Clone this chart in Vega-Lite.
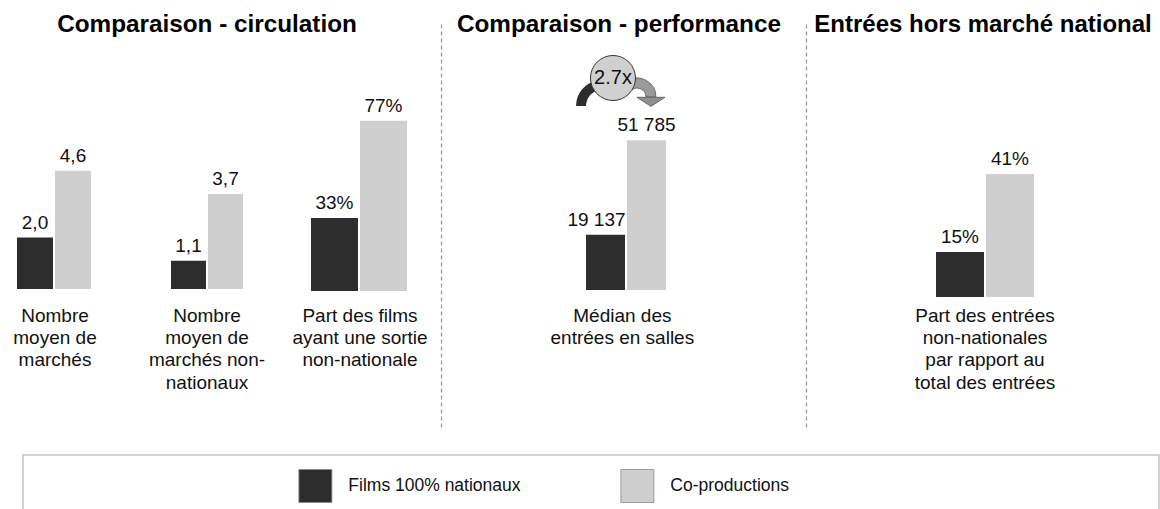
{
  "$schema": "https://vega.github.io/schema/vega-lite/v6.json",
  "padding": {"top": 13, "left": 0, "right": 0, "bottom": 0},
  "spacing": 27,
  "config": {
    "font": "Liberation Sans",
    "view": {"stroke": null},
    "text": {"color": "#111111"}
  },
  "datasets": {
    "barres": [
      {"groupe": "g1", "serie": "Films 100% nationaux", "valeur": 2.0, "etiquette": "2,0", "categorie": "Nombre\nmoyen de\nmarchés"},
      {"groupe": "g1", "serie": "Co-productions", "valeur": 4.6, "etiquette": "4,6", "categorie": "Nombre\nmoyen de\nmarchés"},
      {"groupe": "g2", "serie": "Films 100% nationaux", "valeur": 1.1, "etiquette": "1,1", "categorie": "Nombre\nmoyen de\nmarchés non-\nnationaux"},
      {"groupe": "g2", "serie": "Co-productions", "valeur": 3.7, "etiquette": "3,7", "categorie": "Nombre\nmoyen de\nmarchés non-\nnationaux"},
      {"groupe": "g3", "serie": "Films 100% nationaux", "valeur": 33, "etiquette": "33%", "categorie": "Part des films\nayant une sortie\nnon-nationale"},
      {"groupe": "g3", "serie": "Co-productions", "valeur": 77, "etiquette": "77%", "categorie": "Part des films\nayant une sortie\nnon-nationale"},
      {"groupe": "g4", "serie": "Films 100% nationaux", "valeur": 19137, "etiquette": "19 137", "categorie": "Médian des\nentrées en salles"},
      {"groupe": "g4", "serie": "Co-productions", "valeur": 51785, "etiquette": "51 785", "categorie": "Médian des\nentrées en salles"},
      {"groupe": "g5", "serie": "Films 100% nationaux", "valeur": 15, "etiquette": "15%", "categorie": "Part des entrées\nnon-nationales\npar rapport au\ntotal des entrées"},
      {"groupe": "g5", "serie": "Co-productions", "valeur": 41, "etiquette": "41%", "categorie": "Part des entrées\nnon-nationales\npar rapport au\ntotal des entrées"}
    ]
  },
  "vconcat": [
    {
      "resolve": {"scale": {"x": "independent", "xOffset": "independent", "y": "independent"}},
      "hconcat": [
        {
          "width": 108, "height": 404,
          "data": {"name": "barres"},
          "layer": [
            {
              "transform": [{"filter": "datum.groupe === 'g1'"}],
              "mark": {"type": "bar"},
              "encoding": {
                "x": {"field": "serie", "type": "nominal", "scale": {"domain": ["Films 100% nationaux", "Co-productions"], "paddingInner": 0.0526, "paddingOuter": 0.447, "align": 0.5}, "axis": null},
                "y": {"field": "valeur", "type": "quantitative", "scale": {"domain": [-5.37, 10.35], "nice": false}, "axis": null},
                "y2": {"datum": 0},
                "color": {"field": "serie", "type": "nominal", "scale": {"domain": ["Films 100% nationaux", "Co-productions"], "range": ["#2d2d2d", "#cfcfcf"]}, "legend": null}
              }
            },
            {
              "transform": [{"filter": "datum.groupe === 'g1'"}],
              "mark": {"type": "text", "baseline": "alphabetic", "dy": -9, "fontSize": 19},
              "encoding": {
                "x": {"field": "serie", "type": "nominal", "axis": null},
                "y": {"field": "valeur", "type": "quantitative", "axis": null},
                "text": {"field": "etiquette"}
              }
            },
            {
              "transform": [{"filter": "datum.groupe === 'g1' && datum.serie === 'Co-productions'"}],
              "mark": {"type": "text", "baseline": "top", "dy": 17.8, "fontSize": 19, "lineHeight": 22.3, "lineBreak": "\n"},
              "encoding": {
                "x": {"field": "serie", "type": "nominal", "bandPosition": 0, "axis": null},
                "y": {"datum": 0, "axis": null},
                "text": {"field": "categorie"}
              }
            }
          ]
        },
        {
          "width": 198, "height": 404,
          "data": {"name": "barres"},
          "layer": [
            {
              "transform": [{"filter": "datum.groupe === 'g2'"}],
              "mark": {"type": "bar"},
              "encoding": {
                "x": {"field": "groupe", "type": "nominal", "scale": {"paddingInner": 0, "paddingOuter": 0.5, "align": 0.5}, "axis": null},
                "xOffset": {"field": "serie", "type": "nominal", "scale": {"domain": ["Films 100% nationaux", "Co-productions"], "paddingInner": 0.054, "paddingOuter": 0.365}},
                "y": {"field": "valeur", "type": "quantitative", "scale": {"domain": [-5.37, 10.35], "nice": false}, "axis": null},
                "y2": {"datum": 0},
                "color": {"field": "serie", "type": "nominal", "scale": {"domain": ["Films 100% nationaux", "Co-productions"], "range": ["#2d2d2d", "#cfcfcf"]}, "legend": null}
              }
            },
            {
              "transform": [{"filter": "datum.groupe === 'g2'"}],
              "mark": {"type": "text", "baseline": "alphabetic", "dy": -9, "fontSize": 19},
              "encoding": {
                "x": {"field": "groupe", "type": "nominal", "axis": null},
                "xOffset": {"field": "serie", "type": "nominal"},
                "y": {"field": "valeur", "type": "quantitative", "axis": null},
                "text": {"field": "etiquette"}
              }
            },
            {
              "transform": [{"filter": "datum.groupe === 'g2' && datum.serie === 'Co-productions'"}],
              "mark": {"type": "text", "baseline": "top", "dy": 17.8, "fontSize": 19, "lineHeight": 22.3, "lineBreak": "\n"},
              "encoding": {
                "x": {"field": "groupe", "type": "nominal", "axis": null},
                "y": {"datum": 0, "axis": null},
                "text": {"field": "categorie"}
              }
            },
            {
              "data": {"values": [{"titre": "Comparaison - circulation"}]},
              "mark": {"type": "text", "baseline": "alphabetic", "dy": 9.3, "fontSize": 24.3, "fontWeight": "bold", "color": "#000000"},
              "encoding": {
                "y": {"datum": 10.35, "axis": null},
                "text": {"field": "titre"}
              }
            }
          ]
        },
        {
          "width": 135, "height": 404,
          "data": {"name": "barres"},
          "layer": [
            {
              "transform": [{"filter": "datum.groupe === 'g3'"}],
              "mark": {"type": "bar"},
              "encoding": {
                "x": {"field": "serie", "type": "nominal", "scale": {"domain": ["Films 100% nationaux", "Co-productions"], "paddingInner": 0.041, "paddingOuter": 0.398, "align": 0.128}, "axis": null},
                "y": {"field": "valeur", "type": "quantitative", "scale": {"domain": [-61.54, 121.27], "nice": false}, "axis": null},
                "y2": {"datum": 0},
                "color": {"field": "serie", "type": "nominal", "scale": {"domain": ["Films 100% nationaux", "Co-productions"], "range": ["#2d2d2d", "#cfcfcf"]}, "legend": null}
              }
            },
            {
              "transform": [{"filter": "datum.groupe === 'g3'"}],
              "mark": {"type": "text", "baseline": "alphabetic", "dy": -9, "fontSize": 19},
              "encoding": {
                "x": {"field": "serie", "type": "nominal", "axis": null},
                "y": {"field": "valeur", "type": "quantitative", "axis": null},
                "text": {"field": "etiquette"}
              }
            },
            {
              "transform": [{"filter": "datum.groupe === 'g3' && datum.serie === 'Co-productions'"}],
              "mark": {"type": "text", "baseline": "top", "dy": 15.8, "fontSize": 19, "lineHeight": 22.3, "lineBreak": "\n"},
              "encoding": {
                "x": {"field": "serie", "type": "nominal", "bandPosition": 0, "axis": null},
                "y": {"datum": 0, "axis": null},
                "text": {"field": "categorie"}
              }
            }
          ]
        },
        {
          "width": 365, "height": 404,
          "data": {"name": "barres"},
          "layer": [
            {
              "transform": [{"filter": "datum.groupe === 'g4'"}],
              "mark": {"type": "bar"},
              "encoding": {
                "x": {"field": "groupe", "type": "nominal", "scale": {"paddingInner": 0, "paddingOuter": 1, "align": 0.5103}, "axis": null},
                "xOffset": {"field": "serie", "type": "nominal", "scale": {"domain": ["Films 100% nationaux", "Co-productions"], "paddingInner": 0.0488, "paddingOuter": 0.508}},
                "y": {"field": "valeur", "type": "quantitative", "scale": {"domain": [-47356, 92292], "nice": false}, "axis": {"orient": "left", "domain": true, "domainDash": [4, 3], "domainColor": "#9a9a9a", "domainWidth": 1.3, "ticks": false, "labels": false, "title": null, "grid": false}},
                "y2": {"datum": 0},
                "color": {"field": "serie", "type": "nominal", "scale": {"domain": ["Films 100% nationaux", "Co-productions"], "range": ["#2d2d2d", "#cfcfcf"]}, "legend": null}
              }
            },
            {
              "transform": [{"filter": "datum.groupe === 'g4' && datum.serie === 'Films 100% nationaux'"}],
              "mark": {"type": "text", "baseline": "alphabetic", "dy": -9, "dx": -9, "fontSize": 19},
              "encoding": {
                "x": {"field": "groupe", "type": "nominal", "axis": null},
                "xOffset": {"field": "serie", "type": "nominal"},
                "y": {"field": "valeur", "type": "quantitative"},
                "text": {"field": "etiquette"}
              }
            },
            {
              "transform": [{"filter": "datum.groupe === 'g4' && datum.serie === 'Co-productions'"}],
              "mark": {"type": "text", "baseline": "alphabetic", "dy": -9, "fontSize": 19},
              "encoding": {
                "x": {"field": "groupe", "type": "nominal", "axis": null},
                "xOffset": {"field": "serie", "type": "nominal"},
                "y": {"field": "valeur", "type": "quantitative"},
                "text": {"field": "etiquette"}
              }
            },
            {
              "transform": [{"filter": "datum.groupe === 'g4' && datum.serie === 'Co-productions'"}],
              "mark": {"type": "text", "baseline": "top", "dy": 16.8, "fontSize": 19, "lineHeight": 22.3, "lineBreak": "\n"},
              "encoding": {
                "x": {"field": "groupe", "type": "nominal", "bandPosition": 0.47, "axis": null},
                "y": {"datum": 0},
                "text": {"field": "categorie"}
              }
            },
            {
              "data": {"values": [{"titre": "Comparaison - performance", "ratio": "2.7x"}]},
              "layer": [
                {
                  "mark": {"type": "text", "baseline": "alphabetic", "dy": 9.3, "fontSize": 24.3, "fontWeight": "bold", "color": "#000000"},
                  "encoding": {
                    "x": {"datum": "g4", "bandPosition": 0.442, "axis": null},
                    "y": {"datum": 92292},
                    "text": {"field": "titre"}
                  }
                },
                {
                  "mark": {"type": "arc", "radius": 26, "radius2": 16, "theta": -1.5708, "theta2": -0.2, "color": "#2d2d2d"},
                  "encoding": {
                    "x": {"datum": "g4", "bandPosition": 0.303, "axis": null},
                    "y": {"datum": 63602}
                  }
                },
                {
                  "mark": {"type": "arc", "radius": 19, "radius2": 9, "theta": -0.6, "theta2": 1.5708, "color": "#9a9a9a", "stroke": "#555555", "strokeWidth": 0.8},
                  "encoding": {
                    "x": {"datum": "g4", "bandPosition": 0.59, "axis": null},
                    "y": {"datum": 66713}
                  }
                },
                {
                  "mark": {"type": "point", "shape": "M-1,-0.3L1,-0.3L0,0.35Z", "size": 784, "filled": true, "opacity": 1, "color": "#8f8f8f", "stroke": "#555555", "strokeWidth": 0.8},
                  "encoding": {
                    "x": {"datum": "g4", "bandPosition": 0.705, "axis": null},
                    "y": {"datum": 65158}
                  }
                },
                {
                  "mark": {"type": "point", "shape": "circle", "size": 2025, "filled": true, "opacity": 1, "color": "#d0d0d0", "stroke": "#333333", "strokeWidth": 1},
                  "encoding": {
                    "x": {"datum": "g4", "bandPosition": 0.393, "axis": null},
                    "y": {"datum": 73281}
                  }
                },
                {
                  "mark": {"type": "text", "baseline": "middle", "fontSize": 20},
                  "encoding": {
                    "x": {"datum": "g4", "bandPosition": 0.393, "axis": null},
                    "y": {"datum": 73281},
                    "text": {"field": "ratio"}
                  }
                }
              ]
            }
          ]
        },
        {
          "width": 354, "height": 404,
          "data": {"name": "barres"},
          "layer": [
            {
              "transform": [{"filter": "datum.groupe === 'g5'"}],
              "mark": {"type": "bar"},
              "encoding": {
                "x": {"field": "groupe", "type": "nominal", "scale": {"paddingInner": 0, "paddingOuter": 1, "align": 0.5085}, "axis": null},
                "xOffset": {"field": "serie", "type": "nominal", "scale": {"domain": ["Films 100% nationaux", "Co-productions"], "paddingInner": 0.04, "paddingOuter": 0.2}},
                "y": {"field": "valeur", "type": "quantitative", "scale": {"domain": [-43.33, 91.33], "nice": false}, "axis": {"orient": "left", "domain": true, "domainDash": [4, 3], "domainColor": "#9a9a9a", "domainWidth": 1.3, "ticks": false, "labels": false, "title": null, "grid": false}},
                "y2": {"datum": 0},
                "color": {"field": "serie", "type": "nominal", "scale": {"domain": ["Films 100% nationaux", "Co-productions"], "range": ["#2d2d2d", "#cfcfcf"]}, "legend": null}
              }
            },
            {
              "transform": [{"filter": "datum.groupe === 'g5'"}],
              "mark": {"type": "text", "baseline": "alphabetic", "dy": -9, "fontSize": 19},
              "encoding": {
                "x": {"field": "groupe", "type": "nominal", "axis": null},
                "xOffset": {"field": "serie", "type": "nominal"},
                "y": {"field": "valeur", "type": "quantitative"},
                "text": {"field": "etiquette"}
              }
            },
            {
              "transform": [{"filter": "datum.groupe === 'g5' && datum.serie === 'Co-productions'"}],
              "mark": {"type": "text", "baseline": "top", "dy": 9.8, "fontSize": 19, "lineHeight": 22.3, "lineBreak": "\n"},
              "encoding": {
                "x": {"field": "groupe", "type": "nominal", "axis": null},
                "y": {"datum": 0},
                "text": {"field": "categorie"}
              }
            },
            {
              "data": {"values": [{"titre": "Entrées hors marché national"}]},
              "mark": {"type": "text", "baseline": "alphabetic", "dy": 9.3, "fontSize": 24, "fontWeight": "bold", "color": "#000000"},
              "encoding": {
                "y": {"datum": 91.33},
                "text": {"field": "titre"}
              }
            }
          ]
        }
      ],
      "spacing": 0,
      "bounds": "flush"
    },
    {
      "hconcat": [
        {
          "width": 23, "height": 62,
          "data": {"values": []},
          "mark": "point",
          "encoding": {}
        },
        {
          "width": 1136, "height": 62,
          "view": {"stroke": "#c4c4c4", "strokeWidth": 1.5},
          "data": {"values": [{"serie": "Films 100% nationaux"}, {"serie": "Co-productions"}]},
          "encoding": {
            "x": {"field": "serie", "type": "nominal", "scale": {"type": "band", "domain": ["Films 100% nationaux", "Co-productions"], "paddingInner": 0, "paddingOuter": 0.764, "align": 0.267}, "axis": null}
          },
          "layer": [
            {
              "mark": {"type": "point", "shape": "square", "size": 1089, "filled": true, "opacity": 1, "stroke": "#8a8a8a", "strokeWidth": 0.8},
              "encoding": {
                "color": {"field": "serie", "type": "nominal", "scale": {"domain": ["Films 100% nationaux", "Co-productions"], "range": ["#2d2d2d", "#cfcfcf"]}, "legend": null}
              }
            },
            {
              "mark": {"type": "text", "align": "left", "baseline": "middle", "dx": 33, "fontSize": 17.5},
              "encoding": {"text": {"field": "serie"}}
            }
          ]
        }
      ],
      "spacing": 0,
      "bounds": "flush"
    }
  ]
}
